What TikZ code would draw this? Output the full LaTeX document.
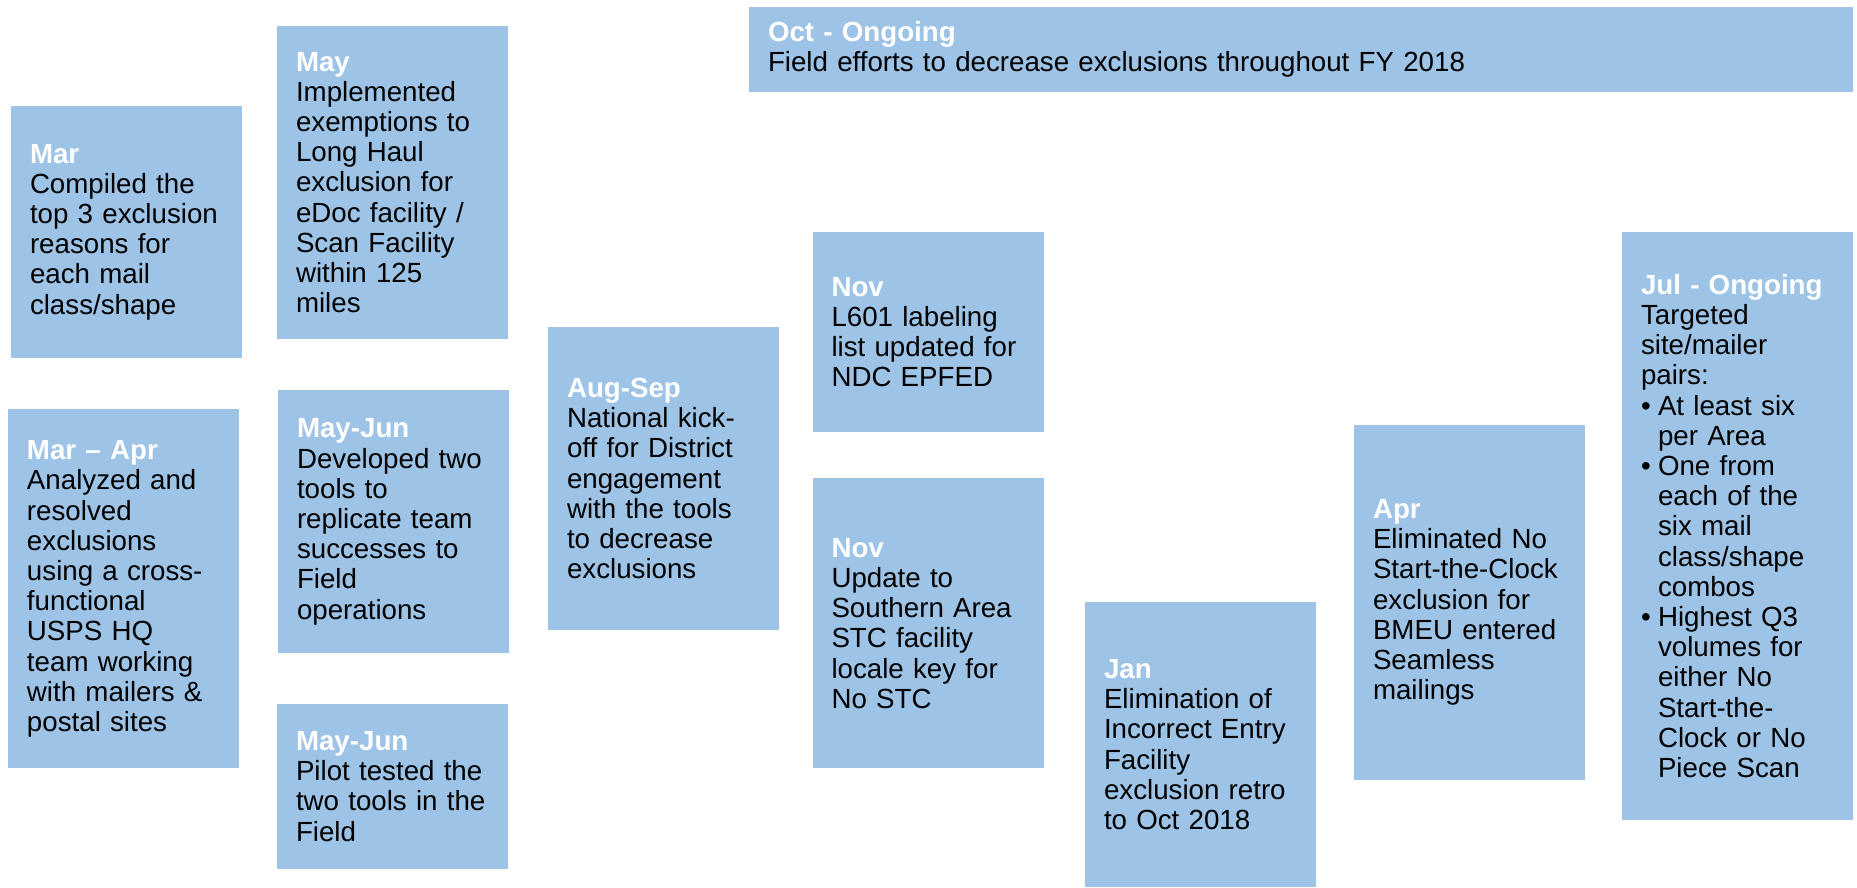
\documentclass[tikz,border=0pt]{standalone}
\usepackage{fontspec}
\setmainfont{Liberation Sans}
\usepackage{tikz}
\usetikzlibrary{positioning}
\definecolor{TimeBlue}{RGB}{157,195,230}
\newcommand{\datehead}[1]{\textcolor{white}{\textbf{#1}}}
\newcommand{\jbul}{\makebox[17pt][l]{\textbullet}}
\newcommand{\jind}{\hspace*{17pt}}
\tikzset{
  milestone/.style={fill=TimeBlue,minimum width=231pt,text width=193pt,inner xsep=19pt,inner ysep=0pt,align=left,font=\fontsize{27.7pt}{30.2pt}\selectfont},
  longmilestone/.style={milestone,minimum width=1104pt,text width=1066pt}
}

\begin{document}
\begin{tikzpicture}[x=1pt,y=-1pt]
\useasboundingbox (0,0) rectangle (1857,887);
% first quarter
\node[milestone, minimum height=252pt] (mar) at (126.5,232) {\datehead{Mar}\\ Compiled the\\ top 3 exclusion\\ reasons for\\ each mail\\ class/shape};
\node[milestone, minimum height=359pt, below=51pt of mar, xshift=-3pt] (marapr) {\datehead{Mar -- Apr}\\ Analyzed and\\ resolved\\ exclusions\\ using a cross-\\ functional\\ USPS HQ\\ team working\\ with mailers \&\\ postal sites};
\node[milestone, minimum height=313pt] (may) at (392.5,182.5) {\datehead{May}\\ Implemented\\ exemptions to\\ Long Haul\\ exclusion for\\ eDoc facility /\\ Scan Facility\\ within 125\\ miles};
\node[milestone, minimum height=263pt, below=51pt of may, xshift=1pt] (mayjun) {\datehead{May-Jun}\\ Developed two\\ tools to\\ replicate team\\ successes to\\ Field\\ operations};
\node[milestone, minimum height=165pt, below=50pt of mayjun, xshift=-1pt] (pilot) {\datehead{May-Jun}\\ Pilot tested the\\ two tools in the\\ Field};
\node[milestone, minimum height=303pt] (augsep) at (663.5,478.5) {\datehead{Aug-Sep}\\ National kick-\\ off for District\\ engagement\\ with the tools\\ to decrease\\ exclusions};

% field work
\node[longmilestone, minimum height=85pt] (oct) at (1301,49.5) {\datehead{Oct - Ongoing}\\ Field efforts to decrease exclusions throughout FY 2018};
\node[milestone, minimum height=200pt] (novlabel) at (928,332) {\datehead{Nov}\\ L601 labeling\\ list updated for\\ NDC EPFED};
\node[milestone, minimum height=290pt, below=46pt of novlabel] (novstc) {\datehead{Nov}\\ Update to\\ Southern Area\\ STC facility\\ locale key for\\ No STC};
\node[milestone, minimum height=285pt] (jan) at (1200.5,744.5) {\datehead{Jan}\\ Elimination of\\ Incorrect Entry\\ Facility\\ exclusion retro\\ to Oct 2018};
\node[milestone, minimum height=355pt] (apr) at (1469.5,602.5) {\datehead{Apr}\\ Eliminated No\\ Start-the-Clock\\ exclusion for\\ BMEU entered\\ Seamless\\ mailings};
\node[milestone, minimum height=588pt] (jul) at (1737.5,526) {\datehead{Jul - Ongoing}\\ Targeted\\ site/mailer\\ pairs:\\ \jbul At least six\\ \jind per Area\\ \jbul One from\\ \jind each of the\\ \jind six mail\\ \jind class/shape\\ \jind combos\\ \jbul Highest Q3\\ \jind volumes for\\ \jind either No\\ \jind Start-the-\\ \jind Clock or No\\ \jind Piece Scan};
\end{tikzpicture}
\end{document}
